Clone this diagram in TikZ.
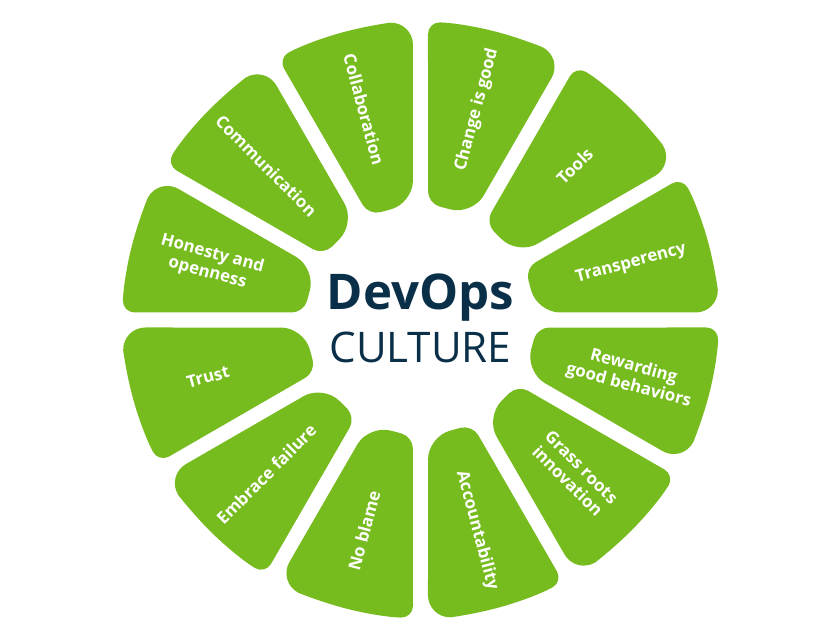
\documentclass[tikz,border=0pt]{standalone}
\usepackage{fontspec}
\setmainfont{Open Sans}
\definecolor{leaf}{HTML}{77BC1F}
\definecolor{navy}{HTML}{0A3049}
\begin{document}
\begin{tikzpicture} [scale=1]
\tikzstyle{every node}=[text=white, font=\bfseries\fontsize{12}{14}\selectfont, align=center];
\useasboundingbox (-10.5125,-8) rectangle (10.4875,8);
\def\petal{[rounded corners=0.3cm] (0:7.45) arc[start angle=0, end angle=13.56, radius=7.45] -- (11.3:2.92) [rounded corners=0.57cm] -- (-11.3:2.92) -- (-13.56:7.45) [rounded corners=0.3cm] arc[start angle=-13.56, end angle=0, radius=7.45]}
\fill [leaf, rotate=15] \petal; % ring
\fill [leaf, rotate=45] \petal;
\fill [leaf, rotate=75] \petal;
\fill [leaf, rotate=105] \petal;
\fill [leaf, rotate=135] \petal;
\fill [leaf, rotate=165] \petal;
\fill [leaf, rotate=195] \petal;
\fill [leaf, rotate=225] \petal;
\fill [leaf, rotate=255] \petal;
\fill [leaf, rotate=285] \petal;
\fill [leaf, rotate=315] \petal;
\fill [leaf, rotate=345] \petal;
\node (v1) at (15:5.45) [rotate=15] {Transperency};
\node (v2) at (45:5.45) [rotate=45] {Tools};
\node (v3) at (75:5.45) [rotate=75] {Change is good};
\node (v4) at (105:5.45) [rotate=-75] {Collaboration};
\node (v5) at (135:5.45) [rotate=-45] {Communication};
\node (v6) at (165:5.45) [rotate=-15] {Honesty and\\openness};
\node (v7) at (195:5.5) [rotate=15] {Trust};
\node (v8) at (225:5.45) [rotate=45] {Embrace failure};
\node (v9) at (255:5.45) [rotate=75] {No blame};
\node (v10) at (285:5.45) [rotate=-75] {Accountability};
\node (v11) at (315:5.45) [rotate=-45] {Grass roots\\innovation};
\node (v12) at (345:5.45) [rotate=-15] {Rewarding\\good behaviors};
\node [text=navy, anchor=base, font=\bfseries\fontsize{35}{40}\selectfont] (v0) at (0,0.25) {DevOps};
\node [text=navy, anchor=base, font=\fontsize{30}{34}\selectfont] (c0) at (0,-1.075) {CULTURE};
\end{tikzpicture}
\end{document}
